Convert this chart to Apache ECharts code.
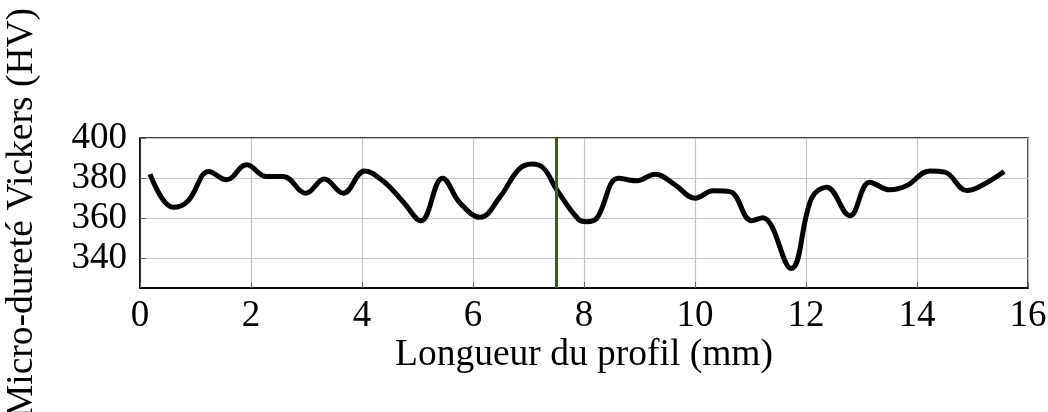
<!DOCTYPE html>
<html><head><meta charset="utf-8">
<script src="https://cdn.jsdelivr.net/npm/echarts@6/dist/echarts.min.js"></script>
<style>html,body{margin:0;padding:0;background:#fff}#c{width:1048px;height:412px}</style>
</head><body><div id="c"></div>
<script>
const positions = [0.18,0.6,0.87,1.24,1.56,1.92,2.28,2.58,2.99,3.32,3.66,4.05,4.39,4.74,5.06,5.45,5.77,6.13,6.49,6.82,7.06,7.27,7.51,7.9,8.05,8.23,8.62,8.95,9.28,9.64,10.0,10.33,10.63,11.02,11.22,11.73,12.1,12.37,12.79,13.15,13.51,13.81,14.23,14.5,14.9,15.19,15.57];
const hardness = [382,365.5,368.8,383.3,379.2,386.7,380.8,380.8,372.5,379.6,372.5,383.6,378.3,368.3,358.8,380,367.5,360.5,370.8,384.2,387,385,374.2,359.5,358.3,360,380,378.7,382,376.7,370,373.7,373.3,358.8,360.3,335,370,375.5,361.3,378,374.2,376.2,383.6,383,373.8,376.7,383.3];
const yTicks = [340,360,380,400];
const markerX = 7.5;

const font = 'Liberation Serif';
const chart = echarts.init(document.getElementById('c'));
chart.setOption({
  animation:false,
  grid:{left:140,right:20,top:138,bottom:124,outerBoundsMode:'none',containLabel:false,show:true,borderColor:'#000',borderWidth:1.5,backgroundColor:'transparent'},
  xAxis:{type:'value',min:0,max:16,interval:2,
    name:'Longueur du profil (mm)',nameLocation:'middle',nameGap:48,
    nameTextStyle:{fontFamily:font,fontSize:37.5,color:'#000'},
    axisLine:{show:true,lineStyle:{color:'#000',width:1.5}},
    axisTick:{show:true,inside:true,length:6,lineStyle:{color:'#666'}},
    axisLabel:{fontFamily:font,fontSize:37,color:'#000',margin:10},
    splitLine:{show:true,lineStyle:{color:'#c4c4c4',width:1.2}}},
  yAxis:{type:'value',min:325.3,max:400,
    name:'Micro-dureté Vickers (HV)',nameLocation:'middle',nameGap:99,nameRotate:90,
    nameTextStyle:{fontFamily:font,fontSize:37.5,color:'#000'},
    axisLine:{show:true,lineStyle:{color:'#000',width:1.5}},
    axisTick:{show:true,inside:true,length:6,customValues:yTicks,lineStyle:{color:'#666'}},
    axisLabel:{fontFamily:font,fontSize:37,color:'#000',margin:13,customValues:yTicks},
    splitLine:{show:true,lineStyle:{color:'#c4c4c4',width:1.2}}},
  series:[{type:'line',data:positions.map((x,i)=>[x,hardness[i]]),smooth:0.4,showSymbol:false,
    lineStyle:{color:'#000',width:5},
    markLine:{silent:true,symbol:'none',label:{show:false},lineStyle:{color:'#2f6414',width:3,type:'solid'},data:[{xAxis:markerX}]}}]
});
</script></body></html>
